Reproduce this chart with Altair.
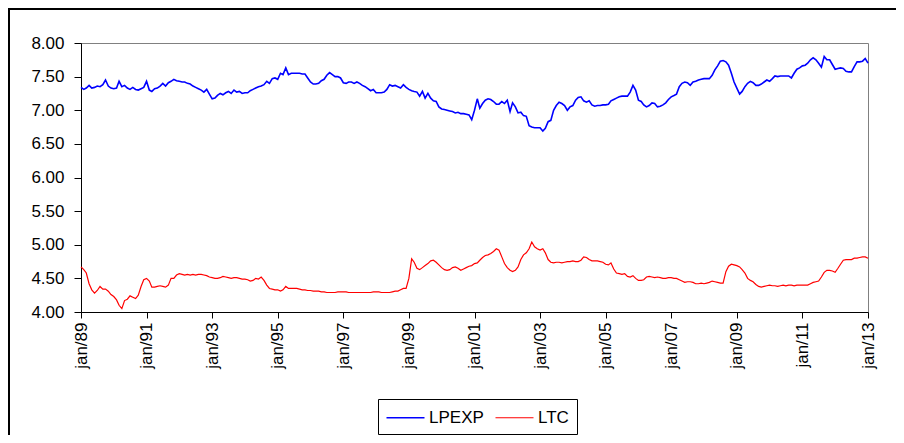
import altair as alt
import pandas as pd

# Monthly values, jan/89 .. jan/13 (one row per year)
LPEXP = [
    7.34, 7.31, 7.33, 7.37, 7.33, 7.34, 7.36, 7.35, 7.38, 7.45, 7.36, 7.33,
    7.32, 7.33, 7.43, 7.35, 7.37, 7.33, 7.31, 7.34, 7.31, 7.30, 7.32, 7.34,
    7.43, 7.30, 7.28, 7.32, 7.33, 7.36, 7.40, 7.36, 7.41, 7.43, 7.46, 7.44,
    7.43, 7.42, 7.42, 7.40, 7.39, 7.36, 7.34, 7.32, 7.30, 7.27, 7.31, 7.24,
    7.17, 7.18, 7.22, 7.25, 7.23, 7.26, 7.28, 7.25, 7.30, 7.27, 7.28, 7.25,
    7.26, 7.26, 7.29, 7.31, 7.33, 7.35, 7.36, 7.38, 7.43, 7.40, 7.47, 7.48,
    7.46, 7.55, 7.53, 7.63, 7.53, 7.55, 7.55, 7.55, 7.55, 7.54, 7.54, 7.48,
    7.42, 7.39, 7.39, 7.40, 7.44, 7.46, 7.52, 7.56, 7.53, 7.50, 7.50, 7.48,
    7.41, 7.40, 7.42, 7.42, 7.40, 7.42, 7.40, 7.37, 7.35, 7.32, 7.29, 7.31,
    7.26, 7.26, 7.26, 7.27, 7.31, 7.38, 7.36, 7.37, 7.35, 7.33, 7.38, 7.34,
    7.31, 7.29, 7.28, 7.27, 7.21, 7.28, 7.18, 7.25, 7.18, 7.14, 7.13, 7.05,
    7.02, 7.01, 7.00, 6.99, 6.98, 6.96, 6.97, 6.95, 6.95, 6.94, 6.93, 6.86,
    7.00, 7.17, 7.03, 7.10, 7.15, 7.17, 7.16, 7.13, 7.09, 7.09, 7.13, 7.10,
    7.15, 6.98, 7.11, 7.05, 6.96, 6.97, 6.92, 6.91, 6.77, 6.75, 6.74, 6.74,
    6.74, 6.69, 6.73, 6.83, 6.85, 7.00, 7.07, 7.12, 7.10, 7.07, 7.00, 7.05,
    7.07, 7.15, 7.19, 7.20, 7.14, 7.12, 7.14, 7.08, 7.06, 7.07, 7.07, 7.08,
    7.08, 7.09, 7.14, 7.16, 7.18, 7.20, 7.21, 7.21, 7.21, 7.27, 7.37, 7.30,
    7.15, 7.13, 7.08, 7.05, 7.07, 7.11, 7.10, 7.05, 7.06, 7.08, 7.11, 7.16,
    7.20, 7.22, 7.24, 7.35, 7.40, 7.42, 7.41, 7.37, 7.42, 7.43, 7.45, 7.46,
    7.47, 7.47, 7.47, 7.52, 7.60, 7.66, 7.73, 7.74, 7.72, 7.67, 7.55, 7.42,
    7.33, 7.24, 7.28, 7.35, 7.40, 7.43, 7.41, 7.37, 7.37, 7.39, 7.42, 7.45,
    7.43, 7.47, 7.51, 7.50, 7.51, 7.51, 7.51, 7.51, 7.48, 7.55, 7.61, 7.63,
    7.66, 7.67, 7.70, 7.75, 7.78, 7.75, 7.70, 7.64, 7.80, 7.75, 7.75, 7.68,
    7.61, 7.62, 7.63, 7.62, 7.58, 7.57, 7.57, 7.65, 7.72, 7.72, 7.73, 7.77,
    7.70,
]

LTC = [
    4.67, 4.63, 4.58, 4.42, 4.33, 4.28, 4.32, 4.38, 4.34, 4.34, 4.31, 4.26,
    4.23, 4.18, 4.10, 4.05, 4.17, 4.19, 4.24, 4.22, 4.20, 4.25, 4.38, 4.48,
    4.50, 4.46, 4.37, 4.37, 4.38, 4.39, 4.38, 4.37, 4.40, 4.50, 4.50, 4.55,
    4.57, 4.56, 4.55, 4.56, 4.55, 4.56, 4.55, 4.56, 4.56, 4.55, 4.54, 4.52,
    4.51, 4.50, 4.50, 4.51, 4.53, 4.52, 4.51, 4.50, 4.51, 4.51, 4.50, 4.49,
    4.49, 4.48, 4.46, 4.47, 4.50, 4.49, 4.52, 4.47, 4.40, 4.35, 4.34, 4.33,
    4.33, 4.31, 4.33, 4.38, 4.35, 4.35, 4.35, 4.35, 4.34, 4.33, 4.33, 4.32,
    4.32, 4.31, 4.31, 4.31, 4.30, 4.30, 4.29, 4.29, 4.29, 4.29, 4.30, 4.30,
    4.30, 4.30, 4.29, 4.29, 4.29, 4.29, 4.29, 4.29, 4.29, 4.29, 4.29, 4.30,
    4.30, 4.30, 4.29, 4.29, 4.29, 4.29, 4.30, 4.31, 4.31, 4.33, 4.35, 4.35,
    4.50, 4.79, 4.74, 4.65, 4.63, 4.66, 4.69, 4.72, 4.76, 4.77, 4.74, 4.70,
    4.66, 4.63, 4.62, 4.63, 4.66, 4.67, 4.65, 4.62, 4.64, 4.66, 4.68, 4.69,
    4.72, 4.73, 4.77, 4.81, 4.84, 4.85, 4.87, 4.90, 4.94, 4.92, 4.82, 4.72,
    4.66, 4.62, 4.60, 4.62, 4.67, 4.78, 4.85, 4.88, 4.94, 5.04, 4.97, 4.94,
    4.92, 4.94, 4.88, 4.78, 4.74, 4.73, 4.74, 4.74, 4.73, 4.74, 4.75, 4.75,
    4.76, 4.75, 4.75, 4.77, 4.82, 4.81, 4.78, 4.76, 4.76, 4.76, 4.75, 4.74,
    4.71, 4.70, 4.73, 4.64, 4.58, 4.57, 4.56, 4.57, 4.53, 4.52, 4.54, 4.50,
    4.47, 4.47, 4.48, 4.52, 4.53, 4.52, 4.51, 4.52, 4.51, 4.50, 4.50, 4.51,
    4.51, 4.50, 4.50, 4.48, 4.46, 4.44, 4.45, 4.45, 4.44, 4.42, 4.42, 4.43,
    4.42, 4.43, 4.44, 4.46, 4.45, 4.44, 4.43, 4.43, 4.60, 4.68, 4.71, 4.70,
    4.69, 4.67, 4.63, 4.58, 4.50, 4.47, 4.45, 4.41, 4.38, 4.37, 4.38, 4.39,
    4.40, 4.39, 4.39, 4.38, 4.39, 4.40, 4.39, 4.40, 4.40, 4.39, 4.40, 4.40,
    4.40, 4.40, 4.40, 4.42, 4.44, 4.45, 4.46, 4.52, 4.59, 4.62, 4.62, 4.61,
    4.59, 4.65, 4.71, 4.77, 4.78, 4.78, 4.78, 4.80, 4.80, 4.81, 4.82, 4.82,
    4.80,
]

SERIES = ["LPEXP", "LTC"]
COLORS = ["#0000FF", "#FF0000"]
TICK_YEARS = list(range(1989, 2014, 2))
Y_TICKS = [4.0, 4.5, 5.0, 5.5, 6.0, 6.5, 7.0, 7.5, 8.0]

n = len(LPEXP)
dates = list(pd.date_range("1989-01-01", periods=n, freq="MS").strftime("%Y-%m-%d"))
df = pd.DataFrame({
    "date": dates + dates,
    "value": LPEXP + LTC,
    "series": ["LPEXP"] * n + ["LTC"] * n,
})

x_tick_values = [alt.DateTime(year=y, month=1, date=1, utc=True) for y in TICK_YEARS]
FONT = "Liberation Sans"

lines = alt.Chart(df).mark_line(interpolate="linear").encode(
    x=alt.X(
        "date:T",
        scale=alt.Scale(
            type="utc",
            domain=[alt.DateTime(year=1989, month=1, date=1, utc=True),
                    alt.DateTime(year=2013, month=1, date=1, utc=True)],
        ),
        axis=alt.Axis(
            values=x_tick_values,
            labelExpr="'jan/' + utcFormat(datum.value, '%y')",
            labelAngle=-90,
            title=None,
            grid=False,
            tickSize=6,
            labelPadding=4,
            domainColor="black",
            tickColor="black",
            labelColor="black",
            labelFont=FONT,
            labelFontSize=17,
            labelOverlap=False,
            labelFlush=False,
        ),
    ),
    y=alt.Y(
        "value:Q",
        scale=alt.Scale(domain=[4, 8], nice=False, zero=False),
        axis=alt.Axis(
            values=Y_TICKS,
            format=".2f",
            title=None,
            grid=False,
            tickSize=7,
            labelPadding=10,
            domainColor="black",
            tickColor="black",
            labelColor="black",
            labelFont=FONT,
            labelFontSize=17,
            labelOverlap=False,
            labelFlush=False,
        ),
    ),
    color=alt.Color(
        "series:N",
        scale=alt.Scale(domain=SERIES, range=COLORS),
        legend=alt.Legend(
            orient="none",
            legendX=297,
            legendY=356,
            direction="horizontal",
            title=None,
            strokeColor="black",
            padding=8,
            symbolType="M-2,0H2",
            symbolSize=361,
            symbolOffset=9,
            symbolStrokeWidth=1.5,
            labelFont=FONT,
            labelFontSize=17,
            labelColor="black",
            labelOffset=13,
            columnPadding=9,
        ),
    ),
    strokeWidth=alt.StrokeWidth(
        "series:N",
        scale=alt.Scale(domain=SERIES, range=[1.6, 1.2]),
        legend=None,
    ),
)

frame_data = pd.DataFrame({"k": [0]})
frame_top = alt.Chart(frame_data).mark_rule(color="black", strokeWidth=2).encode(
    x=alt.value(-73), x2=alt.value(815), y=alt.value(-34)
)
frame_left = alt.Chart(frame_data).mark_rule(color="black", strokeWidth=2).encode(
    x=alt.value(-72), y=alt.value(-35), y2=alt.value(392)
)

chart = alt.layer(lines, frame_top, frame_left).properties(
    width=787,
    height=269,
    padding={"left": 73, "top": 35, "right": 28, "bottom": 123},
    autosize="none",
    background="white",
).configure_view(stroke="#808080", strokeWidth=1)

chart.save("out.html", embed_options={"renderer": "svg", "actions": False})
